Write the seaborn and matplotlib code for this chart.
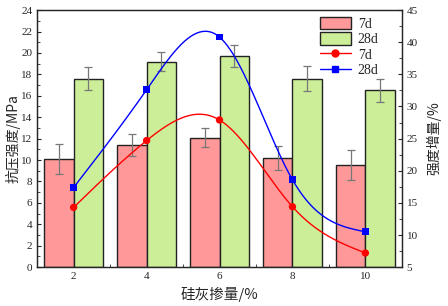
import numpy as np
import pandas as pd
import matplotlib
matplotlib.use("Agg")
import matplotlib.pyplot as plt
import seaborn as sns
from matplotlib.patches import Patch
from matplotlib.lines import Line2D

dosage = [2, 4, 6, 8, 10]
str7 = [10.1, 11.4, 12.1, 10.2, 9.5]
err7 = [1.4, 1.0, 0.9, 1.1, 1.4]
str28 = [17.6, 19.2, 19.7, 17.6, 16.5]
err28 = [1.1, 0.9, 1.0, 1.2, 1.1]
inc7 = [14.3, 24.7, 27.9, 14.4, 7.2]
inc28 = [17.4, 32.6, 40.8, 18.6, 10.5]

sns.set_style("ticks")
plt.rcParams['font.family'] = ['Liberation Serif', 'Noto Sans CJK SC']
plt.rcParams['xtick.direction'] = 'in'
plt.rcParams['ytick.direction'] = 'in'

def natural_spline(x, y, n=200):
    x = np.asarray(x, float); y = np.asarray(y, float)
    k = len(x); h = np.diff(x)
    A = np.zeros((k, k)); b = np.zeros(k)
    A[0, 0] = 1; A[-1, -1] = 1
    for i in range(1, k - 1):
        A[i, i - 1] = h[i - 1]; A[i, i] = 2 * (h[i - 1] + h[i]); A[i, i + 1] = h[i]
        b[i] = 3 * ((y[i + 1] - y[i]) / h[i] - (y[i] - y[i - 1]) / h[i - 1])
    c = np.linalg.solve(A, b)
    xs = np.linspace(x[0], x[-1], n); ys = np.empty_like(xs)
    for j, xv in enumerate(xs):
        i = min(np.searchsorted(x, xv, side='right') - 1, k - 2)
        dx = xv - x[i]
        bi = (y[i + 1] - y[i]) / h[i] - h[i] * (2 * c[i] + c[i + 1]) / 3
        di = (c[i + 1] - c[i]) / (3 * h[i])
        ys[j] = y[i] + bi * dx + c[i] * dx ** 2 + di * dx ** 3
    return xs, ys

df = pd.DataFrame({
    'x': dosage * 2,
    'v': str7 + str28,
    'age': ['7d'] * 5 + ['28d'] * 5,
})
c7, c28 = '#FF9999', '#CCEE99'

fig = plt.figure(figsize=(4.48, 3.06), dpi=100)
ax = fig.add_axes([0.083, 0.127, 0.814, 0.840])
sns.barplot(data=df, x='x', y='v', hue='age', native_scale=True, errorbar=None,
            palette={'7d': c7, '28d': c28}, edgecolor='#222222', linewidth=1.0,
            saturation=1, ax=ax, legend=False)
xd = np.array(dosage, float)
ax.errorbar(xd - 0.4, str7, yerr=err7, fmt='none', ecolor='#777777', elinewidth=0.9, capsize=3, capthick=0.9)
ax.errorbar(xd + 0.4, str28, yerr=err28, fmt='none', ecolor='#777777', elinewidth=0.9, capsize=3, capthick=0.9)
ax.set_xlim(1, 11)
ax.set_ylim(0, 24)
ax.set_xticks(dosage)
ax.set_xticks([3, 5, 7, 9], minor=True)
ax.set_yticks(range(0, 25, 2))
ax.set_yticks(range(1, 24, 2), minor=True)
ax.tick_params(labelsize=8, length=3, width=0.8)
ax.tick_params(which='minor', length=2, width=0.6)
ax.set_xlabel('硅灰掺量/%', fontsize=10.5, family=['Noto Sans CJK SC'])
ax.set_ylabel('抗压强度/MPa', fontsize=10, family=['Noto Sans CJK SC'], labelpad=0)
for s in ax.spines.values():
    s.set_linewidth(1.0); s.set_color('#333333')

ax2 = ax.twinx()
xs, ys7 = natural_spline(dosage, inc7)
_, ys28 = natural_spline(dosage, inc28)
sns.lineplot(x=xs, y=ys7, color='#FF0000', lw=1.0, ax=ax2)
sns.lineplot(x=xs, y=ys28, color='#0000FF', lw=1.0, ax=ax2)
sns.scatterplot(x=dosage, y=inc7, color='#FF0000', marker='o', s=28, edgecolor='none', ax=ax2, zorder=5)
sns.scatterplot(x=dosage, y=inc28, color='#0000FF', marker='s', s=24, edgecolor='none', ax=ax2, zorder=5)
ax2.set_ylim(5, 45)
ax2.set_yticks(range(5, 46, 5))
ax2.set_yticks(np.arange(7.5, 45, 5), minor=True)
ax2.tick_params(labelsize=8, length=3, width=0.8)
ax2.tick_params(which='minor', length=2, width=0.6)
ax2.set_ylabel('强度增量/%', fontsize=10, family=['Noto Sans CJK SC'], labelpad=6)

handles = [Patch(facecolor=c7, edgecolor='#222222', label='7d'),
           Patch(facecolor=c28, edgecolor='#222222', label='28d'),
           Line2D([], [], color='#FF0000', marker='o', markersize=5, lw=1, label='7d'),
           Line2D([], [], color='#0000FF', marker='s', markersize=4.5, lw=1, label='28d')]
ax2.legend(handles=handles, loc='upper right', frameon=False, fontsize=10,
           handlelength=2.2, handleheight=1.0, labelspacing=0.1, borderaxespad=0.1,
           handletextpad=0.5, bbox_to_anchor=(0.955, 1.0))
fig.savefig('out.png', dpi=100)
